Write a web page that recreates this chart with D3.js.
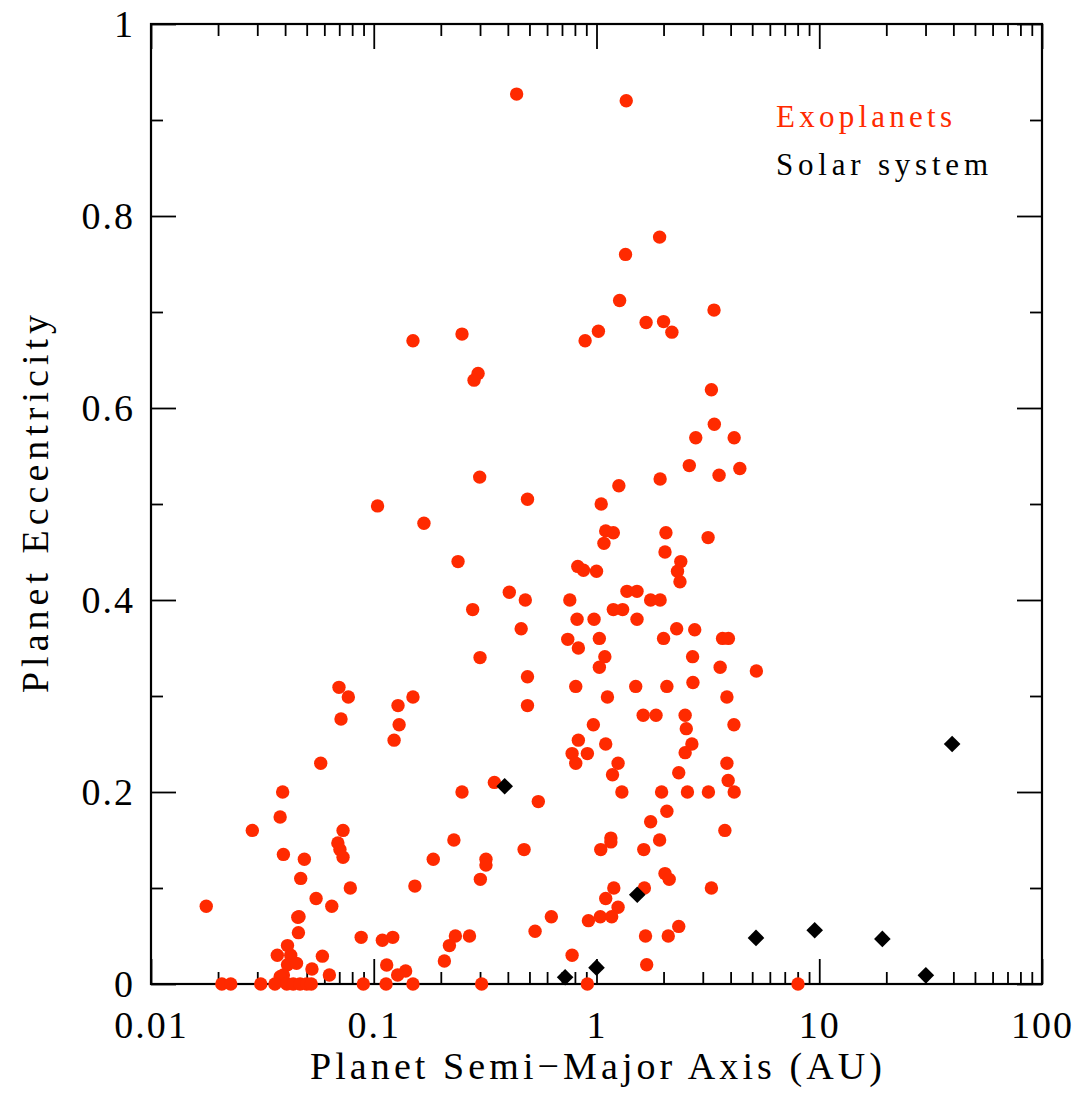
<!DOCTYPE html>
<html>
<head>
<meta charset="utf-8">
<script src="https://cdn.jsdelivr.net/npm/d3@7"></script>
<style>
  body { margin: 0; background: #fff; }
  svg { display: block; }
  text { font-family: 'Liberation Serif', serif; }
</style>
</head>
<body>
<div id="chart"></div>
<script>
// Exoplanets: semi-major axis (AU) and eccentricity
const exoA = [0.438, 1.36, 1.92, 1.35, 1.27, 3.37, 1.67, 2.00, 2.18, 1.02, 0.889, 0.150, 0.249, 0.294, 0.282,
  3.28, 3.38, 2.79, 4.15, 2.61, 4.40, 3.55, 1.93, 0.299, 1.26, 0.490, 1.05, 0.104, 0.168, 1.10,
  1.19, 1.08, 2.05, 3.17, 2.03, 0.239, 2.39, 2.31, 2.37, 0.824, 0.874, 1.00, 0.406, 0.479, 0.278,
  0.759, 1.37, 1.52, 1.75, 1.93, 1.19, 1.31, 0.818, 0.975, 1.52, 0.459, 0.743, 0.829, 1.03, 2.00,
  2.29, 2.76, 3.68, 3.91, 2.70, 1.09, 0.300, 1.03, 3.59, 5.22, 0.490, 0.807, 1.50, 2.07, 2.71,
  0.150, 1.12, 3.85, 0.490, 1.62, 1.85, 2.50, 4.14, 2.53, 0.968, 0.829, 1.10, 0.777, 0.910, 0.807,
  2.68, 2.50, 3.85, 3.90, 1.25, 1.18, 2.34, 0.348, 0.249, 1.30, 1.96, 2.56, 3.18, 4.15, 0.548,
  2.07, 1.75, 3.77, 0.229, 1.16, 1.16, 1.92, 1.045, 1.63, 0.473, 0.185, 0.319, 0.319, 0.301, 2.03,
  2.12, 0.153, 3.28, 1.196, 1.64, 1.10, 1.25, 0.920, 1.04, 1.17, 0.627, 0.530, 0.2325, 0.269, 0.2186,
  0.2075, 1.66, 2.10, 2.34, 0.777, 1.68, 0.139, 0.150, 0.305, 0.910, 8.03,
  0.0698, 0.0769, 0.1285, 0.130, 0.1234, 0.0713, 0.0578, 0.0390, 0.0380, 0.0285, 0.0728, 0.069, 0.0705, 0.0728, 0.0393,
  0.0488, 0.0785, 0.0470, 0.0551, 0.0648, 0.0177, 0.0456, 0.0462, 0.0459, 0.0410, 0.0369, 0.0424, 0.0410, 0.045, 0.0588,
  0.0528, 0.0632, 0.0393, 0.0380, 0.0878, 0.1093, 0.1217, 0.1143, 0.128,
  0.0208, 0.0228, 0.0311, 0.0360, 0.0407, 0.0435, 0.0467, 0.050, 0.0524, 0.0898, 0.1136];

const exoE = [0.927, 0.920, 0.778, 0.760, 0.712, 0.702, 0.689, 0.690, 0.679, 0.680, 0.670, 0.670, 0.677, 0.636, 0.629,
  0.619, 0.583, 0.569, 0.569, 0.540, 0.537, 0.530, 0.526, 0.528, 0.519, 0.505, 0.500, 0.498, 0.480, 0.472,
  0.470, 0.459, 0.470, 0.465, 0.450, 0.440, 0.440, 0.430, 0.419, 0.435, 0.431, 0.430, 0.408, 0.400, 0.390,
  0.400, 0.409, 0.409, 0.400, 0.400, 0.390, 0.390, 0.380, 0.380, 0.380, 0.370, 0.359, 0.350, 0.360, 0.360,
  0.370, 0.369, 0.360, 0.360, 0.341, 0.341, 0.340, 0.330, 0.330, 0.326, 0.320, 0.310, 0.310, 0.310, 0.314,
  0.299, 0.299, 0.299, 0.290, 0.280, 0.280, 0.280, 0.270, 0.266, 0.270, 0.254, 0.250, 0.240, 0.240, 0.230,
  0.250, 0.241, 0.230, 0.212, 0.230, 0.218, 0.220, 0.210, 0.200, 0.200, 0.200, 0.200, 0.200, 0.200, 0.190,
  0.180, 0.169, 0.160, 0.150, 0.152, 0.148, 0.150, 0.140, 0.140, 0.140, 0.130, 0.130, 0.124, 0.109, 0.115,
  0.109, 0.102, 0.100, 0.100, 0.100, 0.089, 0.080, 0.066, 0.070, 0.070, 0.070, 0.055, 0.050, 0.050, 0.040,
  0.024, 0.050, 0.050, 0.060, 0.030, 0.020, 0.0135, 0, 0, 0, 0,
  0.309, 0.299, 0.290, 0.270, 0.254, 0.276, 0.230, 0.200, 0.174, 0.160, 0.160, 0.147, 0.140, 0.132, 0.135,
  0.130, 0.100, 0.110, 0.089, 0.081, 0.081, 0.0695, 0.070, 0.0535, 0.040, 0.030, 0.030, 0.020, 0.0215, 0.029,
  0.0156, 0.0094, 0.0094, 0.0076, 0.0486, 0.0455, 0.0486, 0.0198, 0.0094,
  0, 0, 0, 0, 0, 0, 0, 0, 0, 0, 0];

// Solar system planets
const solarNames = ['Mercury', 'Venus', 'Earth', 'Mars', 'Jupiter', 'Saturn', 'Uranus', 'Neptune', 'Pluto'];
const solarA = [0.387, 0.723, 1.0, 1.524, 5.20, 9.54, 19.2, 30.1, 39.5];
const solarE = [0.206, 0.007, 0.017, 0.093, 0.048, 0.056, 0.047, 0.009, 0.250];

const xTicks = [0.01, 0.1, 1, 10, 100];
const xTickLabels = ['0.01', '0.1', '1', '10', '100'];
const yTicks = [0, 0.2, 0.4, 0.6, 0.8, 1];
const yTickLabels = ['0', '0.2', '0.4', '0.6', '0.8', '1'];
const legendLabels = ['Exoplanets', 'Solar system'];

const width = 1084, height = 1093;
const margin = { top: 24, right: 42, bottom: 109, left: 151 };
const red = '#ff2a00';

const svg = d3.select('#chart').append('svg')
  .attr('width', width)
  .attr('height', height)
  .style('background', '#fff');

const x = d3.scaleLog().domain([0.01, 100]).range([margin.left, width - margin.right]);
const y = d3.scaleLinear().domain([0, 1]).range([height - margin.bottom, margin.top]);

// minor ticks 2..9 in each decade, 0.1 steps on y
const xMinor = [];
for (let p = -2; p < 2; p++) for (let k = 2; k <= 9; k++) xMinor.push(k * Math.pow(10, p));
const yMinor = d3.range(1, 10, 2).map(v => v / 10);

function styleAxis(g) {
  g.select('.domain').remove();
  g.selectAll('line').attr('stroke', '#000').attr('stroke-width', 1.8);
}

function styleLabels(g) {
  g.selectAll('text')
    .attr('font-size', 38)
    .attr('letter-spacing', 2)
    .attr('fill', '#000')
    .attr('font-family', 'Liberation Serif');
}

// bottom
svg.append('g').attr('transform', `translate(0,${y(0)})`)
  .call(d3.axisBottom(x).tickValues(xTicks).tickSize(-25).tickPadding(27)
    .tickFormat((d, i) => xTickLabels[i]))
  .call(styleAxis)
  .call(styleLabels);
svg.append('g').attr('transform', `translate(0,${y(0)})`)
  .call(d3.axisBottom(x).tickValues(xMinor).tickSize(-12).tickFormat(''))
  .call(styleAxis);

// top
svg.append('g').attr('transform', `translate(0,${y(1)})`)
  .call(d3.axisTop(x).tickValues(xTicks).tickSize(-25).tickFormat(''))
  .call(styleAxis);
svg.append('g').attr('transform', `translate(0,${y(1)})`)
  .call(d3.axisTop(x).tickValues(xMinor).tickSize(-12).tickFormat(''))
  .call(styleAxis);

// left
svg.append('g').attr('transform', `translate(${x(0.01)},0)`)
  .call(d3.axisLeft(y).tickValues(yTicks).tickSize(-25).tickPadding(16)
    .tickFormat((d, i) => yTickLabels[i]))
  .call(styleAxis)
  .call(styleLabels);
svg.append('g').attr('transform', `translate(${x(0.01)},0)`)
  .call(d3.axisLeft(y).tickValues(yMinor).tickSize(-12).tickFormat(''))
  .call(styleAxis);

// right
svg.append('g').attr('transform', `translate(${x(100)},0)`)
  .call(d3.axisRight(y).tickValues(yTicks).tickSize(-25).tickFormat(''))
  .call(styleAxis);
svg.append('g').attr('transform', `translate(${x(100)},0)`)
  .call(d3.axisRight(y).tickValues(yMinor).tickSize(-12).tickFormat(''))
  .call(styleAxis);

// frame
svg.append('rect')
  .attr('x', x(0.01)).attr('y', y(1))
  .attr('width', x(100) - x(0.01)).attr('height', y(0) - y(1))
  .attr('fill', 'none').attr('stroke', '#000').attr('stroke-width', 2.2);

// exoplanets
svg.append('g').selectAll('circle')
  .data(exoA.map((a, i) => ({ a: a, e: exoE[i] })))
  .enter().append('circle')
  .attr('cx', d => x(d.a))
  .attr('cy', d => y(d.e))
  .attr('r', 6.7)
  .attr('fill', red);

// solar system
const diamond = d3.symbol().type(d3.symbolSquare).size(138);
svg.append('g').selectAll('path')
  .data(solarA.map((a, i) => ({ name: solarNames[i], a: a, e: solarE[i] })))
  .enter().append('path')
  .attr('d', diamond)
  .attr('transform', d => `translate(${x(d.a)},${y(d.e)}) rotate(45)`)
  .attr('fill', '#000');

// legend
svg.append('text')
  .attr('x', 776).attr('y', 127)
  .attr('font-size', 31).attr('fill', red)
  .attr('textLength', 176).attr('lengthAdjust', 'spacing')
  .text(legendLabels[0]);
svg.append('text')
  .attr('x', 776).attr('y', 175)
  .attr('font-size', 31).attr('fill', '#000')
  .attr('textLength', 212).attr('lengthAdjust', 'spacing')
  .text(legendLabels[1]);

// axis titles
svg.append('text')
  .attr('x', 310).attr('y', 1079)
  .attr('font-size', 38).attr('fill', '#000')
  .attr('textLength', 572).attr('lengthAdjust', 'spacing')
  .text('Planet Semi\u2212Major Axis (AU)');
svg.append('text')
  .attr('transform', 'translate(48,693) rotate(-90)')
  .attr('font-size', 38).attr('fill', '#000')
  .attr('textLength', 378).attr('lengthAdjust', 'spacing')
  .text('Planet Eccentricity');
</script>
</body>
</html>
